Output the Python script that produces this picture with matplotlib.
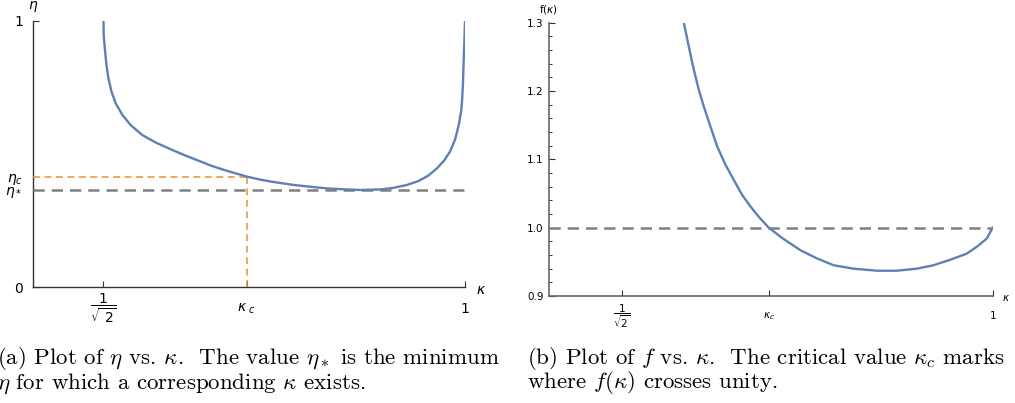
import numpy as np
import matplotlib
matplotlib.use("Agg")
import matplotlib.pyplot as plt

# ---- data ----
kappa_a = [0.7071, 0.7073, 0.7082, 0.7095, 0.7111, 0.7136, 0.7170, 0.7225, 0.7292,
           0.7386, 0.7494, 0.7629, 0.7736, 0.7939, 0.8042, 0.8234, 0.8340, 0.8448,
           0.8612, 0.8769, 0.8882, 0.9042, 0.9151, 0.9311, 0.9420, 0.9530, 0.9620,
           0.9700, 0.9770, 0.9830, 0.9880, 0.9920, 0.9950, 0.9970, 0.9977, 0.9983,
           0.9990, 0.9996, 1.0000]
eta_a = [1.000, 0.946, 0.896, 0.834, 0.784, 0.734, 0.690, 0.646, 0.608,
         0.571, 0.543, 0.515, 0.494, 0.457, 0.441, 0.415, 0.404, 0.395,
         0.384, 0.376, 0.371, 0.367, 0.365, 0.367, 0.373, 0.384, 0.398,
         0.418, 0.445, 0.475, 0.510, 0.555, 0.610, 0.665, 0.705, 0.760,
         0.860, 0.940, 1.000]

kappa_b = [0.7562, 0.7601, 0.7641, 0.7680, 0.7720, 0.7772, 0.7825, 0.7891, 0.7956,
           0.8022, 0.8088, 0.8153, 0.8232, 0.8337, 0.8482, 0.8613, 0.8744, 0.8902,
           0.9086, 0.9244, 0.9401, 0.9532, 0.9664, 0.9795, 0.9874, 0.9953, 1.0000]
f_b = [1.300, 1.265, 1.231, 1.202, 1.177, 1.148, 1.119, 1.092, 1.070,
       1.048, 1.031, 1.016, 1.000, 0.985, 0.967, 0.955, 0.945, 0.940,
       0.937, 0.937, 0.940, 0.945, 0.953, 0.962, 0.972, 0.984, 1.000]

kappa_min = 1 / np.sqrt(2)
kappa_c = 0.8232
eta_c = 0.415
eta_star = 0.365

blue = '#5E81B5'
orange = '#EE8E2A'
gray = '#808080'

W, H = 1015, 403
fig = plt.figure(figsize=(W / 100, H / 100), dpi=100)

def px(x, y):
    return x / W, 1 - y / H

# ---------------- panel (a) ----------------
axa = fig.add_axes([33/W, 1-287.3/H, (465-33)/W, (287.3-20.7)/H])
axa.set_xlim(0.65, 1.0)
axa.set_ylim(0, 1)
for s in ['top', 'right']:
    axa.spines[s].set_visible(False)
for s in ['left', 'bottom']:
    axa.spines[s].set_color('#333333')
    axa.spines[s].set_linewidth(1.0)
axa.plot(kappa_a, eta_a, color=blue, lw=1.7, zorder=4, solid_joinstyle='round')
axa.plot([0.65, 1.0], [eta_star, eta_star], color=gray, lw=1.8, dashes=(4.5, 2.8), zorder=3)
axa.plot([0.65, kappa_c], [eta_c, eta_c], color=orange, lw=1.1, dashes=(4.5, 3), zorder=3)
axa.plot([kappa_c, kappa_c], [0, eta_c], color=orange, lw=1.1, dashes=(4.5, 3), zorder=3)
axa.set_xticks([kappa_min, kappa_c, 1.0])
axa.set_xticklabels([r'$\dfrac{1}{\sqrt{\ 2}}$', r'$\kappa_{\ c}$', '1'])
axa.set_yticks([0, 1])
axa.set_yticklabels(['0', '1'])
axa.tick_params(direction='in', length=4, width=0.8, color='#333333', labelsize=10)
axa.tick_params(axis='x', pad=15.5)
axa.tick_params(axis='y', pad=7)
for t in axa.get_xticklabels():
    t.set_va('center')
fig.text(*px(23, 179.5), r'$\eta_c$', fontsize=10, ha='right', va='center')
fig.text(*px(22, 193), r'$\eta_*$', fontsize=10, ha='right', va='center')
fig.text(*px(33, 7), r'$\eta$', fontsize=10, ha='center', va='center')
fig.text(*px(481, 290), r'$\kappa$', fontsize=10, ha='center', va='center')

# ---------------- panel (b) ----------------
axb = fig.add_axes([549.3/W, 1-296/H, (992.7-549.3)/W, (296-22.7)/H])
axb.set_xlim(0.65, 1.0)
axb.set_ylim(0.9, 1.3)
for s in ['top', 'right']:
    axb.spines[s].set_visible(False)
for s in ['left', 'bottom']:
    axb.spines[s].set_color('#666666')
    axb.spines[s].set_linewidth(1.2)
axb.plot(kappa_b, f_b, color=blue, lw=1.7, zorder=4, solid_joinstyle='round')
axb.plot([0.65, 1.0], [1.0, 1.0], color=gray, lw=1.8, dashes=(4.5, 2.8), zorder=3)
axb.set_xticks([kappa_min, kappa_c, 1.0])
axb.set_xticklabels([r'$\dfrac{1}{\sqrt{2}}$', r'$\kappa_c$', '1'])
axb.set_yticks([0.9, 1.0, 1.1, 1.2, 1.3])
axb.set_yticklabels(['0.9', '1.0', '1.1', '1.2', '1.3'])
axb.set_yticks(np.arange(0.92, 1.3, 0.02), minor=True)
axb.tick_params(direction='in', length=4, width=0.8, color='#333333', labelsize=7.5)
axb.tick_params(axis='x', pad=14.5)
axb.tick_params(axis='y', pad=4)
axb.tick_params(which='minor', direction='in', length=2.5, width=0.7, color='#333333')
for t in axb.get_xticklabels():
    t.set_va('center')
fig.text(*px(548, 10), r'f($\kappa$)', fontsize=7.5, ha='center', va='center')
fig.text(*px(1006, 298), r'$\kappa$', fontsize=7.5, ha='center', va='center')

# ---------------- captions ----------------
cap = dict(fontsize=16.5, family='cmr10', math_fontfamily='cm', ha='left', va='baseline')
fig.text(*px(-3, 364), r'(a) Plot of $\eta$ vs. $\kappa$.  The value $\eta_*$ is the minimum', **cap)
fig.text(*px(-3, 388.5), r'$\eta$ for which a corresponding $\kappa$ exists.', **cap)
fig.text(*px(527, 364), r'(b) Plot of $f$ vs. $\kappa$.  The critical value $\kappa_c$ marks', **cap)
fig.text(*px(527, 388.5), r'where $f(\kappa)$ crosses unity.', **cap)

fig.savefig('out.png', dpi=100)
